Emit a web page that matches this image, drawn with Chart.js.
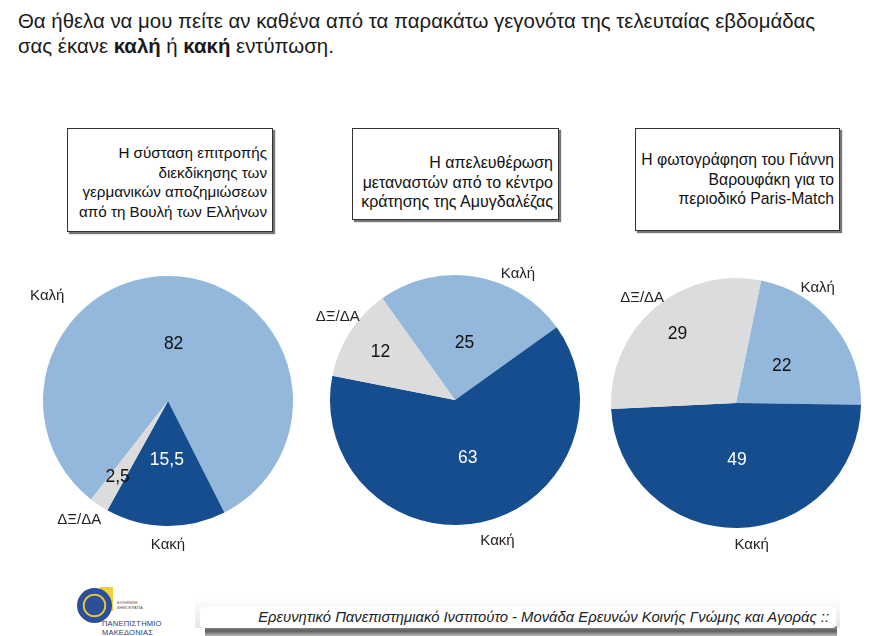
<!DOCTYPE html>
<html lang="el">
<head>
<meta charset="utf-8">
<script src="https://cdn.jsdelivr.net/npm/chart.js@4.4.1/dist/chart.umd.min.js"></script>
<style>
  body { margin: 0; width: 890px; height: 636px; background: #fff; position: relative; overflow: hidden;
         font-family: "Liberation Sans", Arial, sans-serif; color: #222; }
  .title { position: absolute; left: 18px; top: 9px; font-size: 20.4px; line-height: 25px; color: #1a1a1a; }
  .box { position: absolute; top: 128px; border: 1px solid #333; box-shadow: 2px 2px 1px #777;
         background: #fff; text-align: right; line-height: 19.5px; box-sizing: border-box;
         padding: 14px 5px 0 2px; color: #111; white-space: nowrap; }
  canvas.pie { position: absolute; }
  .strip-haze { position: absolute; left: 195px; top: 598px; width: 645px; height: 30px;
                background: linear-gradient(#fff, #e6e6e6); }
  .strip-shadow { position: absolute; left: 205px; top: 626px; width: 632px; height: 10px;
                  background: linear-gradient(#9a9a9a, #5e5e5e 50%, #bbb); }
  .strip { position: absolute; left: 200px; top: 607px; width: 636px; height: 21px; background: #fff;
           border-radius: 4px; font-style: italic; font-size: 14.8px; line-height: 21px;
           text-align: right; padding-right: 7px; box-sizing: border-box; color: #222; white-space: nowrap; }
  .logo-seal { position: absolute; left: 77px; top: 588px; width: 35px; height: 35px; border-radius: 50%;
               background: radial-gradient(circle, #2c4f98 0 38%, #e2c53a 41% 46%, #2c4f98 49% 86%, #e2c53a 89%); }
  .logo-tower { position: absolute; left: 100px; top: 587px; width: 13px; height: 24px; background: #efcf3a; }
  .logo-text { position: absolute; left: 102px; top: 619px; font-size: 7.5px; line-height: 9px; color: #2b3a66; letter-spacing: 0.2px; }
  .logo-small { position: absolute; left: 117px; top: 601px; font-size: 4px; line-height: 4.5px; color: #555; }
</style>
</head>
<body>
<div class="title">Θα ήθελα να μου πείτε αν καθένα από τα παρακάτω γεγονότα της τελευταίας εβδομάδας<br>σας έκανε <b>καλή</b> ή <b>κακή</b> εντύπωση.</div>

<div class="box" id="q0" style="left:67px; width:206px; height:104px; font-size:15.2px;"></div>
<div class="box" id="q1" style="left:352px; width:207px; height:92px; font-size:16px; padding-top:24px;"></div>
<div class="box" id="q2" style="left:635px; width:205px; height:103px; font-size:15.7px; padding-top:21px;"></div>

<canvas class="pie" id="pie0" width="300" height="300" style="left:18px; top:251px;"></canvas>
<canvas class="pie" id="pie1" width="300" height="300" style="left:305px; top:250px;"></canvas>
<canvas class="pie" id="pie2" width="300" height="300" style="left:586px; top:253px;"></canvas>

<div class="logo-tower"></div>
<div class="logo-seal"></div>
<div class="logo-small">ΕΛΛΗΝΙΚΗ<br>ΔΗΜΟΚΡΑΤΙΑ</div>
<div class="logo-text">ΠΑΝΕΠΙΣΤΗΜΙΟ<br>ΜΑΚΕΔΟΝΙΑΣ</div>

<div class="strip-haze"></div>
<div class="strip-shadow"></div>
<div class="strip">Ερευνητικό Πανεπιστημιακό Ινστιτούτο - Μονάδα Ερευνών Κοινής Γνώμης και Αγοράς ::</div>

<script>
// answers, same order in all three pies
const categories = ['Καλή', 'Κακή', 'ΔΞ/ΔΑ'];

const questions = [
  ['Η σύσταση επιτροπής', 'διεκδίκησης των', 'γερμανικών αποζημιώσεων', 'από τη Βουλή των Ελλήνων'],
  ['Η απελευθέρωση', 'μεταναστών από το κέντρο', 'κράτησης της Αμυγδαλέζας'],
  ['Η φωτογράφηση του Γιάννη', 'Βαρουφάκη για το', 'περιοδικό Paris-Match']
];

const valuesCommission = [82, 15.5, 2.5];
const valuesMigrants   = [25, 63, 12];
const valuesVaroufakis = [22, 49, 29];

const sliceColors = ['#93b8db', '#154d8e', '#dcdcdc'];
const valueColors = ['#111', '#fff', '#111'];

questions.forEach((lines, i) => {
  document.getElementById('q' + i).innerHTML = lines.join('<br>');
});

function fmt(v) {
  return String(v).replace('.', ',');
}

// draws the numbers inside the slices and the answer names outside
const pieLabels = {
  id: 'pieLabels',
  afterDatasetsDraw(chart, args, opts) {
    const ctx = chart.ctx;
    const meta = chart.getDatasetMeta(0);
    const values = chart.data.datasets[0].data;
    ctx.save();
    ctx.textAlign = 'center';
    ctx.textBaseline = 'middle';
    meta.data.forEach((arc, i) => {
      const p = arc.getProps(['x', 'y', 'startAngle', 'endAngle', 'outerRadius'], true);
      const span = p.endAngle - p.startAngle;

      const a1 = p.startAngle + span * 0.5;
      const r1 = p.outerRadius * opts.valueRadius[i];
      ctx.font = '17.5px "Liberation Sans", Arial, sans-serif';
      ctx.fillStyle = valueColors[i];
      ctx.fillText(fmt(values[i]), p.x + Math.cos(a1) * r1, p.y + Math.sin(a1) * r1);

      const a2 = p.startAngle + span * opts.labelAt[i];
      const r2 = p.outerRadius * opts.labelRadius[i];
      ctx.font = '15px "Liberation Sans", Arial, sans-serif';
      ctx.fillStyle = '#2a2222';
      ctx.fillText(chart.data.labels[i], p.x + Math.cos(a2) * r2, p.y + Math.sin(a2) * r2);
    });
    ctx.restore();
  }
};

function makePie(id, values, rotation, labelOpts) {
  return new Chart(document.getElementById(id), {
    type: 'pie',
    data: {
      labels: categories,
      datasets: [{
        data: values,
        backgroundColor: sliceColors,
        borderWidth: 0
      }]
    },
    options: {
      responsive: false,
      animation: false,
      rotation: rotation,
      layout: { padding: 25 },
      plugins: {
        legend: { display: false },
        tooltip: { enabled: false },
        pieLabels: labelOpts
      }
    },
    plugins: [pieLabels]
  });
}

makePie('pie0', valuesCommission, -142, {
  valueRadius: [0.46, 0.47, 0.73],
  labelAt: [0.315, 0.48, 0.85],
  labelRadius: [1.28, 1.15, 1.19]
});

makePie('pie1', valuesMigrants, -35.6, {
  valueRadius: [0.46, 0.48, 0.71],
  labelAt: [0.69, 0.48, 0.56],
  labelRadius: [1.13, 1.18, 1.15]
});

makePie('pie2', valuesVaroufakis, 11.6, {
  valueRadius: [0.47, 0.46, 0.72],
  labelAt: [0.30, 0.47, 0.49],
  labelRadius: [1.13, 1.14, 1.13]
});
</script>
</body>
</html>
